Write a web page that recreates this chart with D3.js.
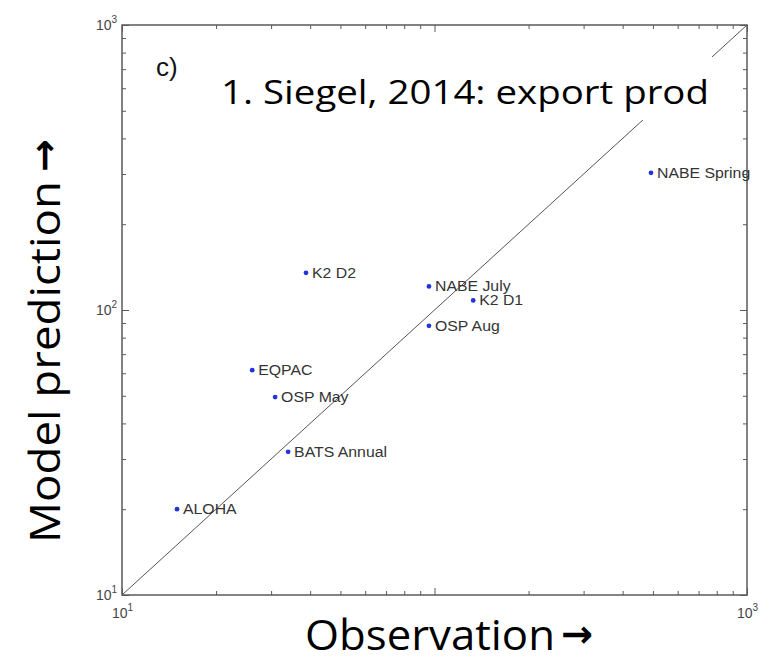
<!DOCTYPE html>
<html lang="en">
  <head>
    <meta charset="UTF-8" />
    <title>Siegel 2014 export prod</title>
    <script src="https://cdn.jsdelivr.net/npm/d3@7"></script>
    <style>
      body { margin: 0; background: #fff; }
      svg { display: block; }
    </style>
  </head>
  <body>
    <svg width="767" height="665"></svg>
    <script>
      // stations, observed vs predicted export
      const sites = ["NABE Spring", "K2 D2", "EQPAC", "OSP May", "NABE July", "K2 D1", "OSP Aug", "BATS Annual", "ALOHA"];
      const observed = [493, 38.8, 26.1, 30.9, 96, 133, 96, 34.0, 15.0];
      const predicted = [303, 135, 61.5, 49.5, 121, 108, 88, 31.8, 20.0];
      const majorTicks = [10, 100, 1000];
      const exponents = ["1", "2", "3"];
      const minorTicks = [20, 30, 40, 50, 60, 70, 80, 90, 200, 300, 400, 500, 600, 700, 800, 900];

      const plotLeft = 122, plotRight = 747, plotTop = 25, plotBottom = 595;
      const svg = d3.select("svg");

      const x = d3.scaleLog().domain([10, 1000]).range([plotLeft, plotRight]);
      const y = d3.scaleLog().domain([10, 1000]).range([plotBottom, plotTop]);

      const axisColor = "#5a5a5a";

      // inward ticks on all four sides
      function ticks(axisFn, scale, vals, size, transform) {
        const g = svg.append("g")
          .attr("transform", transform)
          .call(axisFn(scale).tickValues(vals).tickSize(size).tickFormat(""));
        g.select(".domain").remove();
        g.selectAll("line").attr("stroke", axisColor).attr("stroke-width", 1);
      }
      ticks(d3.axisTop, x, majorTicks, 7, `translate(0,${plotBottom})`);
      ticks(d3.axisTop, x, minorTicks, 4, `translate(0,${plotBottom})`);
      ticks(d3.axisBottom, x, majorTicks, 7, `translate(0,${plotTop})`);
      ticks(d3.axisBottom, x, minorTicks, 4, `translate(0,${plotTop})`);
      ticks(d3.axisRight, y, majorTicks, 7, `translate(${plotLeft},0)`);
      ticks(d3.axisRight, y, minorTicks, 4, `translate(${plotLeft},0)`);
      ticks(d3.axisLeft, y, majorTicks, 7, `translate(${plotRight},0)`);
      ticks(d3.axisLeft, y, minorTicks, 4, `translate(${plotRight},0)`);

      svg.append("rect")
        .attr("x", plotLeft).attr("y", plotTop)
        .attr("width", plotRight - plotLeft).attr("height", plotBottom - plotTop)
        .attr("fill", "none").attr("stroke", axisColor).attr("stroke-width", 1.5);

      // 1:1 line
      svg.append("line")
        .attr("x1", x(10)).attr("y1", y(10))
        .attr("x2", x(1000)).attr("y2", y(1000))
        .attr("stroke", "#555").attr("stroke-width", 1);

      // tick labels with superscripts
      const tickFont = "Liberation Sans, Arial, sans-serif";
      function powLabel(px, py, exp) {
        const t = svg.append("text")
          .attr("x", px).attr("y", py)
          .attr("font-family", tickFont)
          .attr("font-size", 14)
          .attr("fill", "#444");
        t.append("tspan").text("10");
        t.append("tspan").attr("dy", -7).attr("font-size", 10).text(exp);
      }
      majorTicks.forEach((v, i) => {
        // bottom 10^2 is hidden under the slide's axis title
        if (v !== 100) powLabel(x(v) - 10, plotBottom + 23, exponents[i]);
        powLabel(plotLeft - 26, y(v) + 5, exponents[i]);
      });

      // points; the figure was stretched sideways, so labels are a bit wide
      const pts = svg.append("g");
      sites.forEach((s, i) => {
        pts.append("circle")
          .attr("cx", x(observed[i])).attr("cy", y(predicted[i]))
          .attr("r", 2.4).attr("fill", "#2233e0");
        const t = pts.append("text")
          .attr("x", x(observed[i]) + 6).attr("y", y(predicted[i]) + 5)
          .attr("font-family", tickFont)
          .attr("font-size", 14)
          .attr("fill", "#333")
          .text(s);
        const w = t.node().getComputedTextLength();
        t.attr("textLength", w * 1.13).attr("lengthAdjust", "spacingAndGlyphs");
      });

      // panel letter
      svg.append("text")
        .attr("x", 156).attr("y", 76)
        .attr("font-family", "Liberation Sans, Arial, sans-serif")
        .attr("font-size", 26)
        .attr("fill", "#111")
        .text("c)");

      // overlaid slide text with white boxes
      const slideFont = "Open Sans, Noto Sans, sans-serif";
      const arrowFont = "DejaVu Sans, Noto Sans, sans-serif";

      svg.append("rect").attr("x", 206).attr("y", 42).attr("width", 506).attr("height", 78).attr("fill", "#fff");
      svg.append("text")
        .attr("x", 221).attr("y", 104)
        .attr("font-family", slideFont)
        .attr("font-size", 32)
        .attr("textLength", 488)
        .attr("lengthAdjust", "spacingAndGlyphs")
        .attr("fill", "#000")
        .text("1. Siegel, 2014: export prod");

      svg.append("rect").attr("x", 290).attr("y", 604).attr("width", 320).attr("height", 61).attr("fill", "#fff");
      svg.append("text")
        .attr("x", 305).attr("y", 650)
        .attr("font-family", slideFont)
        .attr("font-size", 42)
        .attr("textLength", 250)
        .attr("lengthAdjust", "spacingAndGlyphs")
        .attr("fill", "#000")
        .text("Observation");
      svg.append("text")
        .attr("x", 561).attr("y", 647)
        .attr("font-family", arrowFont)
        .attr("font-weight", "bold")
        .attr("font-size", 38)
        .attr("textLength", 32)
        .attr("lengthAdjust", "spacingAndGlyphs")
        .attr("fill", "#000")
        .text("\u2192");

      svg.append("text")
        .attr("transform", "translate(60,543) rotate(-90)")
        .attr("font-family", slideFont)
        .attr("font-size", 42)
        .attr("textLength", 362)
        .attr("lengthAdjust", "spacingAndGlyphs")
        .attr("fill", "#000")
        .text("Model prediction");
      svg.append("text")
        .attr("transform", "translate(57,172) rotate(-90)")
        .attr("font-family", arrowFont)
        .attr("font-weight", "bold")
        .attr("font-size", 38)
        .attr("textLength", 33)
        .attr("lengthAdjust", "spacingAndGlyphs")
        .attr("fill", "#000")
        .text("\u2192");
    </script>
  </body>
</html>
